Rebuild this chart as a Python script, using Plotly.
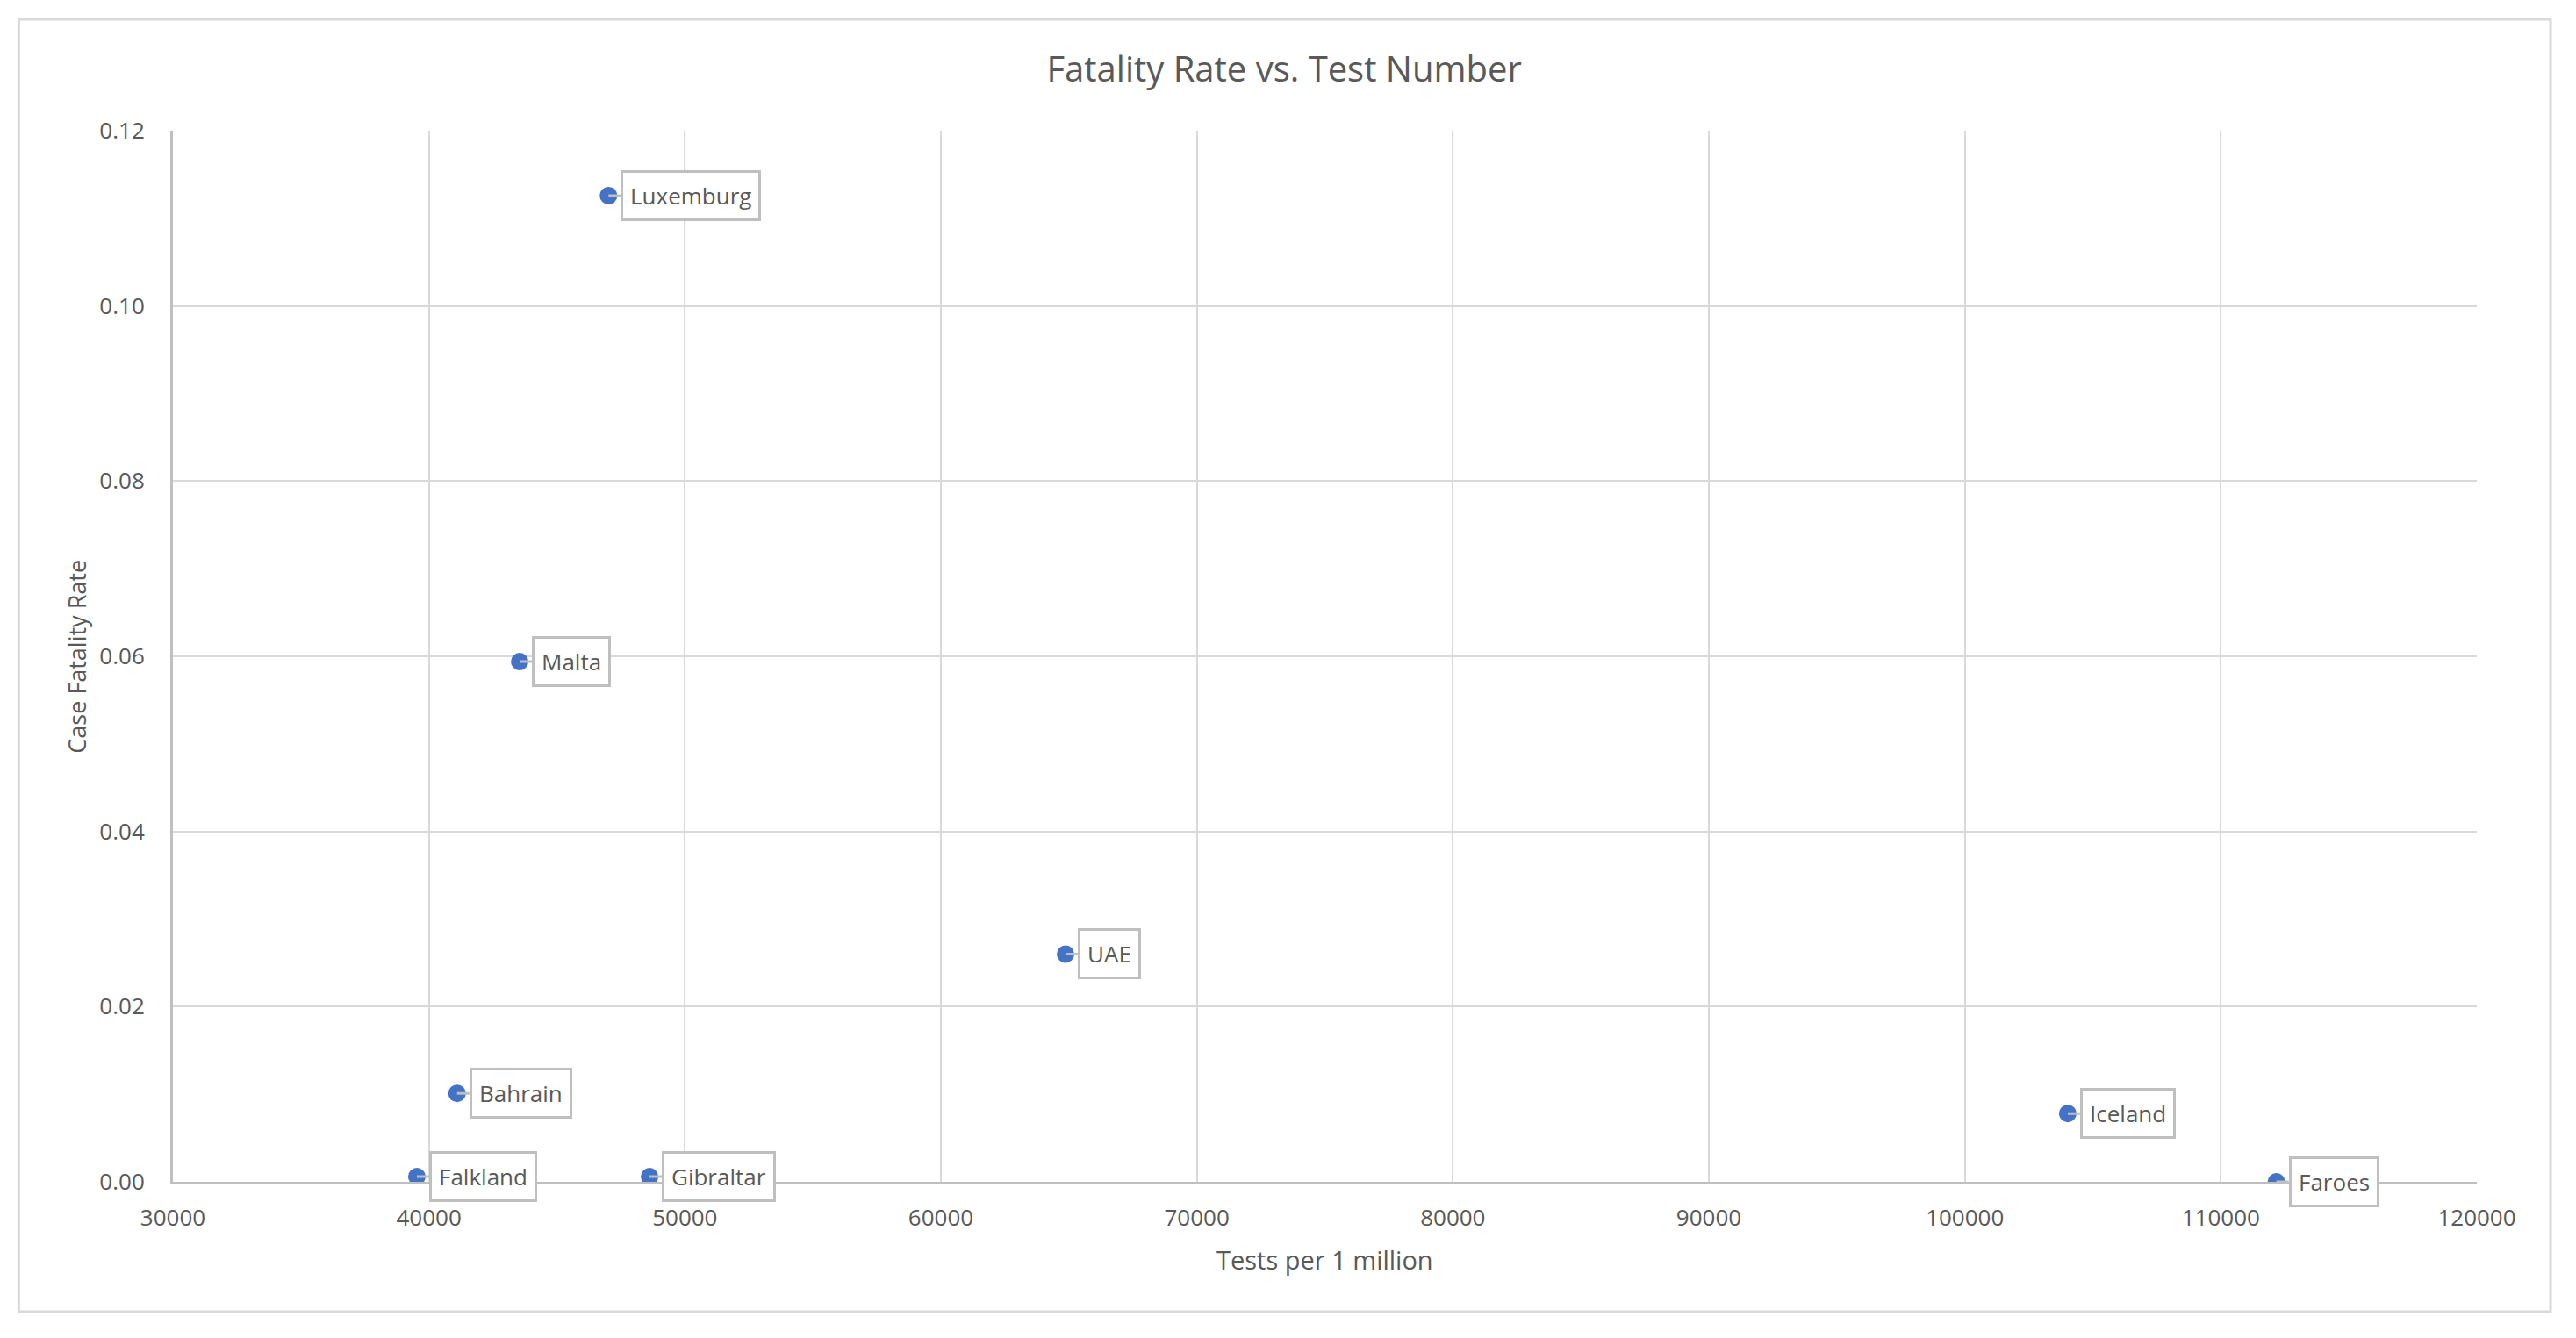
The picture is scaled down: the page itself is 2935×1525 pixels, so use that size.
import plotly.graph_objects as go

# values
countries = ["Luxemburg", "Malta", "UAE", "Bahrain", "Falkland", "Gibraltar", "Iceland", "Faroes"]
tests_per_million = [47016, 43546, 64870, 41100, 39530, 48620, 104020, 112170]
fatality_rate = [0.1126, 0.0594, 0.0260, 0.0101, 0.0006, 0.0006, 0.0078, 0.0]

x_ticks = [30000, 40000, 50000, 60000, 70000, 80000, 90000, 100000, 110000, 120000]
y_ticks = [0.0, 0.02, 0.04, 0.06, 0.08, 0.10, 0.12]

TEXT = "#595959"
GRID = "#D9D9D9"
LINE = "#BFBFBF"
FONT = "Open Sans"

fig = go.Figure()
fig.add_trace(go.Scatter(
    x=tests_per_million,
    y=fatality_rate,
    mode="markers",
    marker=dict(color="#4472C4", size=20),
    hoverinfo="text",
    text=countries,
    showlegend=False,
))

# callout labels beside each point
for name, x, y in zip(countries, tests_per_million, fatality_rate):
    fig.add_annotation(
        x=x, y=y, xref="x", yref="y",
        text=name,
        showarrow=True, arrowhead=0, arrowwidth=3, arrowcolor=LINE,
        ax=14, ay=0, xanchor="left", yanchor="middle",
        bgcolor="white", bordercolor=LINE, borderwidth=3, borderpad=8,
        font=dict(family=FONT, size=26, color=TEXT),
    )

# axis titles
fig.add_annotation(
    text="Tests per 1 million", xref="paper", yref="paper",
    x=0.5, y=-0.074, xanchor="center", yanchor="middle", showarrow=False,
    font=dict(family=FONT, size=29, color=TEXT),
)
fig.add_annotation(
    text="Case Fatality Rate", xref="paper", yref="paper",
    x=-0.042, y=0.5, xanchor="center", yanchor="middle", showarrow=False,
    textangle=-90, font=dict(family=FONT, size=27, color=TEXT),
)

# outer chart border
fig.add_shape(
    type="rect", xref="paper", yref="paper",
    x0=-0.0669, x1=1.032, y0=-0.1235, y1=1.106,
    line=dict(color=GRID, width=3), fillcolor="rgba(0,0,0,0)", layer="below",
)

fig.update_layout(
    width=2919, height=1509,
    paper_bgcolor="white", plot_bgcolor="white",
    margin=dict(l=189, r=105, t=141, b=170),
    title=dict(
        text="Fatality Rate vs. Test Number",
        x=0.4985, xref="container", xanchor="center",
        y=0.953, yref="container", yanchor="middle",
        font=dict(family=FONT, size=40, color=TEXT),
    ),
    font=dict(family=FONT, color=TEXT),
)
fig.update_xaxes(
    range=[30000, 120000], tickvals=x_ticks, tickformat="d",
    showgrid=True, gridcolor=GRID, gridwidth=2,
    showline=True, linecolor=LINE, linewidth=3,
    zeroline=False, ticks="outside", ticklen=16, tickcolor="rgba(0,0,0,0)",
    tickfont=dict(family=FONT, size=26, color=TEXT),
)
fig.update_yaxes(
    range=[0, 0.12], tickvals=y_ticks, tickformat=".2f",
    showgrid=True, gridcolor=GRID, gridwidth=2,
    showline=True, linecolor=LINE, linewidth=3,
    zeroline=False, ticks="outside", ticklen=24, tickcolor="rgba(0,0,0,0)",
    tickfont=dict(family=FONT, size=26, color=TEXT),
)

fig.write_html("out.html")
